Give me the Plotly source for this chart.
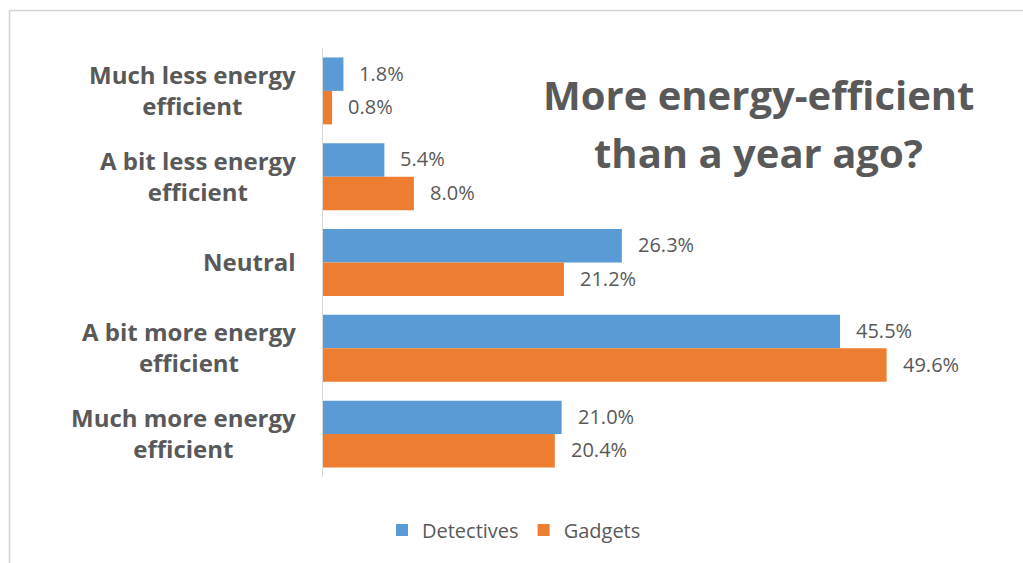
import plotly.graph_objects as go

# Survey answers, top to bottom
categories = [
    "Much less energy<br>efficient",
    "A bit less energy<br>efficient",
    "Neutral",
    "A bit more energy<br>efficient",
    "Much more energy<br>efficient",
]
detectives = [1.8, 5.4, 26.3, 45.5, 21.0]
gadgets = [0.8, 8.0, 21.2, 49.6, 20.4]

series_names = ["Detectives", "Gadgets"]
series_colors = ["#5B9BD5", "#ED7D31"]
title_lines = ["More energy-efficient", "than a year ago?"]

W, H = 1023, 563
M_L, M_R, M_T, M_B = 323, 75, 48, 86
PLOT_W = W - M_L - M_R
PLOT_H = H - M_T - M_B
X_MAX = 55
BARGAP = 0.22
TEXT = "#595959"
FONT = "Open Sans"


def paper_x(px):
    return (px - M_L) / PLOT_W


def paper_y(py):
    return (H - M_B - py) / PLOT_H


fig = go.Figure()
for name, vals, color in zip(series_names, [detectives, gadgets], series_colors):
    fig.add_trace(go.Bar(
        y=categories, x=vals, name=name, orientation="h",
        marker=dict(color=color, line=dict(width=0)),
        hoverinfo="skip",
    ))

# value labels at the end of each bar
cat_px = PLOT_H / len(categories)
bar_px = cat_px * (1 - BARGAP) / 2
annotations = []
for i, vals in enumerate([detectives, gadgets]):
    shift = bar_px / 2 if i == 0 else -bar_px / 2
    for cat, v in zip(categories, vals):
        annotations.append(dict(
            x=v, y=cat, xref="x", yref="y", text=f"{v:.1f}%",
            showarrow=False, xanchor="left", yanchor="middle",
            xshift=14, yshift=shift + 1,
            font=dict(family=FONT, size=20, color=TEXT),
        ))

# category labels: lines centred on each other, block ending near the axis
for cat in categories:
    annotations.append(dict(
        x=0, y=cat, xref="x", yref="y", text=cat,
        showarrow=False, xanchor="right", yanchor="middle", align="center",
        xshift=-25, yshift=1,
        font=dict(family=FONT, size=24, color=TEXT, weight="bold"),
    ))

# two-line heading inside the plot
for line, py in zip(title_lines, [95, 152]):
    annotations.append(dict(
        x=paper_x(758), y=paper_y(py), xref="paper", yref="paper",
        text=line, showarrow=False, xanchor="center", yanchor="middle",
        font=dict(family=FONT, size=40, color=TEXT, weight="bold"),
    ))

# thin frame along the top and left edges
shapes = [
    dict(type="line", xref="paper", yref="paper",
         x0=paper_x(9.5), x1=paper_x(W + 5), y0=paper_y(10.5), y1=paper_y(10.5),
         line=dict(color="#d4d4d4", width=1.5)),
    dict(type="line", xref="paper", yref="paper",
         x0=paper_x(9.5), x1=paper_x(9.5), y0=paper_y(10.5), y1=paper_y(H + 5),
         line=dict(color="#d4d4d4", width=1.5)),
]

fig.update_layout(
    width=W, height=H,
    margin=dict(l=M_L, r=M_R, t=M_T, b=M_B),
    paper_bgcolor="white", plot_bgcolor="white",
    barmode="group", bargap=BARGAP, bargroupgap=0,
    font=dict(family=FONT, color=TEXT),
    xaxis=dict(range=[0, X_MAX], visible=False, fixedrange=True),
    yaxis=dict(autorange="reversed", showticklabels=False, ticks="",
               showgrid=False, zeroline=False,
               showline=True, linecolor="#d9d9d9", linewidth=1),
    legend=dict(orientation="h", x=paper_x(514), xanchor="center",
                y=paper_y(530), yanchor="middle",
                font=dict(family=FONT, size=20, color=TEXT),
                itemwidth=30, traceorder="normal"),
    annotations=annotations,
    shapes=shapes,
    showlegend=True,
)

fig.write_html("out.html", config={"displayModeBar": False})
